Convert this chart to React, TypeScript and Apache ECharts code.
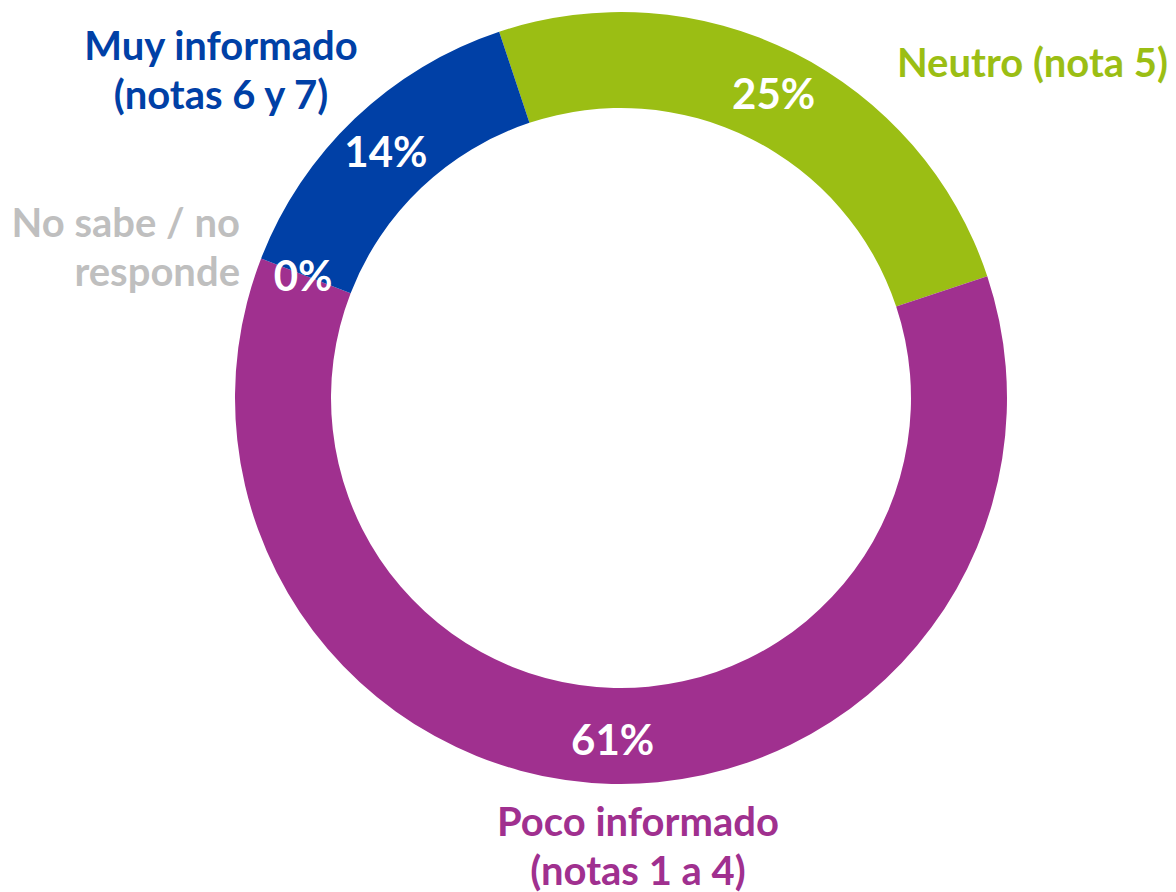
import React, { useEffect, useRef } from "react";
import * as echarts from "echarts";

const categories = [
  "Neutro (nota 5)",
  "Poco informado\n(notas 1 a 4)",
  "No sabe / no\nresponde",
  "Muy informado\n(notas 6 y 7)",
];
const values = [25, 61, 0, 14];
const colors = ["#9BBE14", "#A0308F", "#BFBFBF", "#0040A6"];

const FONT = "Lato, 'Open Sans', sans-serif";

export default function App() {
  const ref = useRef<HTMLDivElement>(null);
  useEffect(() => {
    if (!ref.current) return;
    const chart = echarts.init(ref.current, null, { renderer: "svg" });

    const labelPos = [
      { x: 1168, y: 62, align: "right" },
      { x: 638, y: 845, align: "center" },
      { x: 240, y: 246, align: "right" },
      { x: 221, y: 69, align: "center" },
    ];

    chart.setOption({
      animation: false,
      backgroundColor: "#ffffff",
      series: [
        {
          type: "pie",
          center: [621, 398],
          radius: [290, 386],
          startAngle: 108.4,
          clockwise: true,
          avoidLabelOverlap: false,
          silent: true,
          label: {
            show: true,
            position: "inside",
            formatter: (p: any) => `${p.value}%`,
            color: "#ffffff",
            fontFamily: FONT,
            fontWeight: "bold",
            fontSize: 42,
          },
          labelLine: { show: false },
          emphasis: { disabled: true },
          data: categories.map((name, i) => ({
            name,
            value: values[i],
            itemStyle: { color: colors[i] },
          })),
        },
      ],
      graphic: categories.map((name, i) => ({
        type: "text",
        x: labelPos[i].x,
        y: labelPos[i].y,
        style: {
          text: name,
          fill: colors[i],
          font: `bold 40px ${FONT}`,
          textAlign: labelPos[i].align,
          textVerticalAlign: "middle",
          lineHeight: 49,
        },
      })),
    });
    return () => chart.dispose();
  }, []);
  return (
    <div
      ref={ref}
      style={{ position: "fixed", left: 0, top: 0, width: 1176, height: 892 }}
    />
  );
}
